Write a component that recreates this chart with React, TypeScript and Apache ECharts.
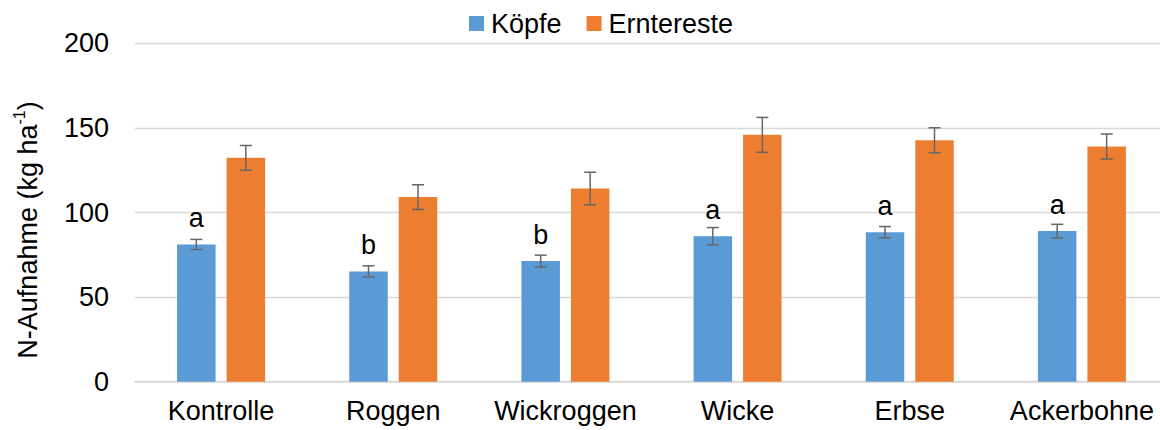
import React, { useEffect, useRef } from "react";
import * as echarts from "echarts";

const categories = ["Kontrolle", "Roggen", "Wickroggen", "Wicke", "Erbse", "Ackerbohne"];
const koepfe = [81.1, 65.2, 71.3, 86.0, 88.4, 89.0];
const koepfeErr = [3.0, 3.3, 3.5, 5.1, 3.3, 4.0];
const erntereste = [132.3, 109.1, 114.2, 145.9, 142.7, 139.0];
const ernteresteErr = [7.3, 7.3, 9.6, 10.3, 7.4, 7.4];
const letters = ["a", "b", "b", "a", "a", "a"];
const yTicks = { min: 0, max: 200, interval: 50 };

const FONT = "'Liberation Sans', Arial, sans-serif";
const FS = 27;
const BAR_W = 38.5;
const GAP = 11;
const OFFSET = (BAR_W + GAP) / 2;

function errSeries(values: number[], errs: number[], offset: number) {
  return {
    type: "custom",
    z: 10,
    silent: true,
    data: values.map((v, i) => [i, v - errs[i], v + errs[i]]),
    encode: { x: 0, y: [1, 2] },
    renderItem: (params: any, api: any) => {
      const idx = api.value(0);
      const lo = api.coord([idx, api.value(1)]);
      const hi = api.coord([idx, api.value(2)]);
      const x = lo[0] + offset;
      const style = { stroke: "#666666", lineWidth: 1.5 };
      const c = 6;
      return {
        type: "group",
        children: [
          { type: "line", shape: { x1: x, y1: hi[1], x2: x, y2: lo[1] }, style },
          { type: "line", shape: { x1: x - c, y1: hi[1], x2: x + c, y2: hi[1] }, style },
          { type: "line", shape: { x1: x - c, y1: lo[1], x2: x + c, y2: lo[1] }, style },
        ],
      };
    },
  };
}

export default function App() {
  const ref = useRef<HTMLDivElement>(null);
  useEffect(() => {
    if (!ref.current) return;
    const chart = echarts.init(ref.current, null, { renderer: "svg" });
    chart.setOption({
      animation: false,
      textStyle: { fontFamily: FONT },
      legend: {
        left: 464,
        top: 5,
        itemWidth: 15,
        itemHeight: 15,
        itemGap: 25,
        icon: "rect",
        textStyle: { fontSize: FS, color: "#000", fontFamily: FONT, padding: [0, 0, 0, 2] },
        data: ["Köpfe", "Erntereste"],
      },
      grid: { left: 135, top: 43.3, width: 1033, height: 338.4 },
      xAxis: {
        type: "category",
        data: categories,
        axisTick: { show: false },
        axisLine: { lineStyle: { color: "#d9d9d9", width: 1.5 } },
        axisLabel: { fontSize: FS, color: "#000", margin: 16, fontFamily: FONT, interval: 0 },
      },
      yAxis: {
        type: "value",
        min: yTicks.min,
        max: yTicks.max,
        interval: yTicks.interval,
        axisLine: { show: false },
        axisTick: { show: false },
        splitLine: { lineStyle: { color: "#d9d9d9", width: 1.3 } },
        axisLabel: { fontSize: FS, color: "#000", margin: 26, fontFamily: FONT },
      },
      graphic: [
        {
          type: "text",
          x: 26,
          y: 230,
          rotation: Math.PI / 2,
          style: {
            text: "{a|N-Aufnahme (kg ha}{s|-1}{a|)}",
            align: "center",
            verticalAlign: "middle",
            rich: {
              a: { fontSize: FS, fontFamily: FONT, fill: "#000", lineHeight: 30, verticalAlign: "bottom" },
              s: { fontSize: 16, fontFamily: FONT, fill: "#000", lineHeight: 30, verticalAlign: "top", padding: [0, 0, 12, 0] },
            },
          },
        },
      ],
      series: [
        {
          name: "Köpfe",
          type: "bar",
          data: koepfe,
          barWidth: BAR_W,
          barGap: (GAP / BAR_W) * 100 + "%",
          itemStyle: { color: "#5B9BD5" },
          label: {
            show: true,
            position: "top",
            distance: 13,
            fontSize: FS,
            color: "#000",
            fontFamily: FONT,
            formatter: (p: any) => letters[p.dataIndex],
          },
        },
        {
          name: "Erntereste",
          type: "bar",
          data: erntereste,
          barWidth: BAR_W,
          barGap: (GAP / BAR_W) * 100 + "%",
          itemStyle: { color: "#ED7D31" },
        },
        errSeries(koepfe, koepfeErr, -OFFSET),
        errSeries(erntereste, ernteresteErr, OFFSET),
      ],
    });
    return () => chart.dispose();
  }, []);
  return (
    <div style={{ position: "absolute", left: 0, top: 0, width: 1160, height: 430, overflow: "hidden" }}>
      <div ref={ref} style={{ position: "absolute", left: 0, top: 0, width: 1175, height: 430 }} />
    </div>
  );
}
